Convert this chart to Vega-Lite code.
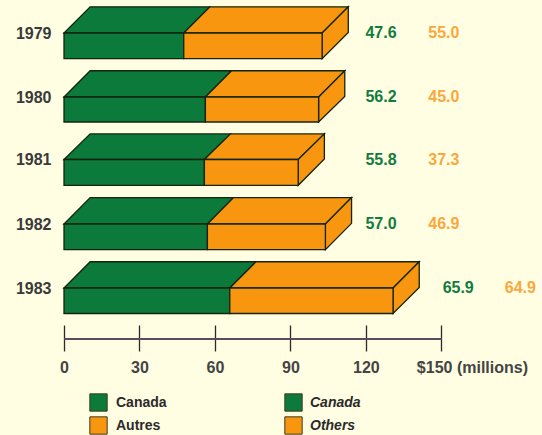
{
  "$schema": "https://vega.github.io/schema/vega-lite/v6.json",
  "width": 478,
  "height": 435,
  "autosize": {"type": "none"},
  "padding": {"left": 64, "top": 0, "right": 0, "bottom": 0},
  "background": "#fffde2",
  "config": {"view": {"stroke": null}, "font": "Liberation Sans"},
  "data": {
    "values": [
      {"year": 1979, "en": "Canada", "fr": "Canada", "value": 47.6},
      {"year": 1979, "en": "Others", "fr": "Autres", "value": 55.0},
      {"year": 1980, "en": "Canada", "fr": "Canada", "value": 56.2},
      {"year": 1980, "en": "Others", "fr": "Autres", "value": 45.0},
      {"year": 1981, "en": "Canada", "fr": "Canada", "value": 55.8},
      {"year": 1981, "en": "Others", "fr": "Autres", "value": 37.3},
      {"year": 1982, "en": "Canada", "fr": "Canada", "value": 57.0},
      {"year": 1982, "en": "Others", "fr": "Autres", "value": 46.9},
      {"year": 1983, "en": "Canada", "fr": "Canada", "value": 65.9},
      {"year": 1983, "en": "Others", "fr": "Autres", "value": 64.9}
    ]
  },
  "transform": [
    {"stack": "value", "groupby": ["year"], "sort": [{"field": "en", "order": "ascending"}], "as": ["x0", "x1"]}
  ],
  "resolve": {"scale": {"color": "independent"}},
  "layer": [
    {
      "description": "Top face of each segment, a parallelogram receding up and to the right",
      "transform": [
        {"calculate": "[datum.x0, datum.x0 + 10.4, datum.x1, datum.x1 + 10.4]", "as": "vx"},
        {"calculate": "[datum.year, datum.year - 0.41, datum.year - 0.41, datum.year - 0.41]", "as": "vy"},
        {"calculate": "[datum.year, datum.year, datum.year, datum.year - 0.41]", "as": "vy2"},
        {"flatten": ["vx", "vy", "vy2"]}
      ],
      "mark": {"type": "area", "orient": "vertical", "stroke": "#14240f", "strokeWidth": 1.3},
      "encoding": {
        "x": {
          "field": "vx",
          "type": "quantitative",
          "title": null,
          "scale": {"domain": [0, 190], "nice": false, "zero": false},
          "axis": {
            "title": null,
            "values": [0, 30, 60, 90, 120, 150],
            "offset": -110,
            "domain": false,
            "grid": false,
            "tickSize": 26,
            "tickColor": "#2a2a2a",
            "tickWidth": 1.3,
            "labelPadding": 8,
            "labelFont": "Liberation Sans",
            "labelFontSize": 16,
            "labelFontWeight": "bold",
            "labelColor": "#444444",
            "labelOverlap": false,
            "labelBound": false,
            "labelFlush": false,
            "labelExpr": "datum.value == 150 ? '$150 (millions)' : datum.label",
            "labelAlign": {"expr": "datum.value == 150 ? 'left' : 'center'"},
            "labelOffset": {"expr": "datum.value == 150 ? -25 : 0"}
          }
        },
        "y": {
          "field": "vy",
          "type": "quantitative",
          "title": null,
          "scale": {
            "domain": [1978.484, 1979, 1980, 1981, 1982, 1983, 1985.306],
            "range": [0, 33, 97, 159.5, 224, 288, 435],
            "nice": false,
            "zero": false
          },
          "axis": {
            "title": null,
            "values": [1979, 1980, 1981, 1982, 1983],
            "format": "d",
            "domain": false,
            "ticks": false,
            "grid": false,
            "labelPadding": 13,
            "labelFont": "Liberation Sans",
            "labelFontSize": 16,
            "labelFontWeight": "bold",
            "labelColor": "#3a3a3a"
          }
        },
        "y2": {"field": "vy2"},
        "detail": {"field": "year"},
        "color": {
          "field": "fr",
          "type": "nominal",
          "scale": {"domain": ["Canada", "Autres"], "range": ["#0b7a3a", "#f8960f"]},
          "legend": {
            "orient": "none",
            "legendX": 25,
            "legendY": 393,
            "title": null,
            "symbolType": "square",
            "symbolSize": 300,
            "symbolStrokeColor": "#3a3a20",
            "symbolStrokeWidth": 1,
            "rowPadding": 0,
            "labelFont": "Liberation Sans",
            "labelFontSize": 14,
            "labelFontWeight": "bold",
            "labelColor": "#2a2a2a",
            "labelOffset": 8,
            "padding": 0
          }
        }
      }
    },
    {
      "description": "Right-hand end face of each bar",
      "transform": [
        {"filter": "datum.en == 'Others'"},
        {"calculate": "[datum.x1, datum.x1 + 10.4]", "as": "vx"},
        {"calculate": "[datum.year, datum.year - 0.41]", "as": "vy"},
        {"calculate": "[datum.year + 0.4, datum.year - 0.01]", "as": "vy2"},
        {"flatten": ["vx", "vy", "vy2"]}
      ],
      "mark": {"type": "area", "orient": "vertical", "stroke": "#14240f", "strokeWidth": 1.3},
      "encoding": {
        "x": {"field": "vx", "type": "quantitative", "title": null},
        "y": {"field": "vy", "type": "quantitative", "title": null},
        "y2": {"field": "vy2"},
        "detail": {"field": "year"},
        "color": {
          "field": "fr",
          "type": "nominal",
          "scale": {"domain": ["Canada", "Autres"], "range": ["#0b7a3a", "#f8960f"]},
          "legend": null
        }
      }
    },
    {
      "description": "Front face of each segment",
      "transform": [{"calculate": "datum.year + 0.4", "as": "bottom"}],
      "mark": {"type": "rect", "stroke": "#14240f", "strokeWidth": 1.3},
      "encoding": {
        "x": {"field": "x0", "type": "quantitative", "title": null},
        "x2": {"field": "x1"},
        "y": {"field": "year", "type": "quantitative", "title": null},
        "y2": {"field": "bottom"},
        "color": {
          "field": "en",
          "type": "nominal",
          "scale": {"domain": ["Canada", "Others"], "range": ["#0b7a3a", "#f8960f"]},
          "legend": {
            "orient": "none",
            "legendX": 220,
            "legendY": 393,
            "title": null,
            "symbolType": "square",
            "symbolSize": 300,
            "symbolStrokeColor": "#3a3a20",
            "symbolStrokeWidth": 1,
            "rowPadding": 0,
            "labelFont": "Liberation Sans",
            "labelFontSize": 14,
            "labelFontWeight": "bold",
            "labelFontStyle": "italic",
            "labelColor": "#2a2a2a",
            "labelOffset": 7,
            "padding": 0
          }
        }
      }
    },
    {
      "description": "Value columns beside the bars; the longest bar pushes its pair further right",
      "transform": [
        {"calculate": "(datum.year == 1983 ? 150.5 : 119.8) + (datum.en == 'Others' ? (datum.year == 1983 ? 24.7 : 25) : 0)", "as": "labelX"}
      ],
      "mark": {"type": "text", "align": "left", "baseline": "middle", "fontSize": 16, "fontWeight": "bold", "font": "Liberation Sans"},
      "encoding": {
        "x": {"field": "labelX", "type": "quantitative", "title": null},
        "y": {"field": "year", "type": "quantitative", "title": null},
        "text": {"field": "value", "type": "quantitative", "format": ".1f"},
        "color": {
          "field": "en",
          "type": "nominal",
          "scale": {"domain": ["Canada", "Others"], "range": ["#117c40", "#f9a840"]},
          "legend": null
        }
      }
    },
    {
      "description": "Horizontal line of the dollar scale, between the ticks",
      "mark": {"type": "rule", "color": "#5b4c5e", "strokeWidth": 1.5},
      "encoding": {
        "x": {"datum": 0, "type": "quantitative", "title": null},
        "x2": {"datum": 150},
        "y": {"datum": 1983.8, "type": "quantitative", "title": null}
      }
    }
  ]
}
